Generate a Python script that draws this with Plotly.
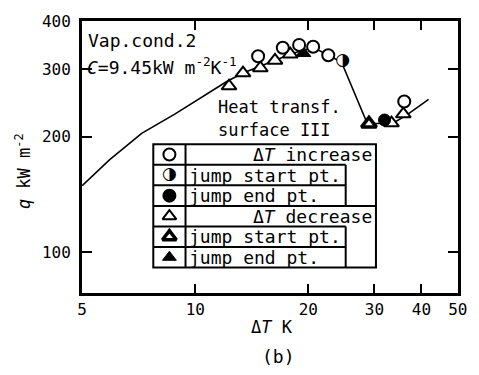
import math
import plotly.graph_objects as go

# ---------------- data ----------------
curve_dT = [5.0, 5.91, 7.20, 8.82, 12.1, 13.4, 14.9, 16.3, 17.9, 19.4, 20.6, 22.6, 24.5, 28.5, 29.1, 33.7, 36.6, 41.8]
curve_q = [149, 174, 204, 229, 278, 293, 305, 316, 328, 336, 342, 326, 313, 220, 216, 217, 228, 250]

inc_dT = [14.7, 17.1, 18.9, 20.6, 22.6, 36.0]
inc_q = [324, 341, 347, 343, 326, 247]
inc_start_dT = [24.7]
inc_start_q = [316]
inc_end_dT = [31.9]
inc_end_q = [221]

dec_dT = [12.3, 13.4, 14.9, 16.3, 17.9, 33.3, 35.8]
dec_q = [271, 293, 302, 316, 328, 217, 229]
dec_start_dT = [29.0]
dec_start_q = [216]
dec_end_dT = [19.4]
dec_end_q = [330]

x_ticks = [5, 10, 20, 30, 40, 50]
x_ticktext = ["5", "10", "20", "30", "40", "50"]
y_ticks = [100, 200, 300, 400]
y_ticktext = ["100", "200", "300", "400"]

legend_labels = ["Δ<i>T</i> increase", "jump start pt.", "jump end pt.",
                 "Δ<i>T</i> decrease", "jump start pt.", "jump end pt."]

# ---------------- figure ----------------
MONO = "DejaVu Sans Mono"
fig = go.Figure()

fig.add_trace(go.Scatter(x=curve_dT, y=curve_q, mode="lines",
                         line=dict(color="black", width=1.6), hoverinfo="skip"))

tri_size = 13
circ_size = 12
fig.add_trace(go.Scatter(x=dec_dT, y=dec_q, mode="markers",
                         marker=dict(symbol="triangle-up", size=tri_size, color="white",
                                     line=dict(color="black", width=2))))
fig.add_trace(go.Scatter(x=dec_start_dT, y=dec_start_q, mode="markers",
                         marker=dict(symbol="triangle-up", size=tri_size, color="white",
                                     line=dict(color="black", width=3.5))))
fig.add_trace(go.Scatter(x=dec_end_dT, y=dec_end_q, mode="markers",
                         marker=dict(symbol="triangle-up", size=tri_size, color="black",
                                     line=dict(color="black", width=1))))
fig.add_trace(go.Scatter(x=inc_dT, y=inc_q, mode="markers",
                         marker=dict(symbol="circle", size=circ_size, color="white",
                                     line=dict(color="black", width=2))))
fig.add_trace(go.Scatter(x=inc_end_dT, y=inc_end_q, mode="markers",
                         marker=dict(symbol="circle", size=circ_size, color="black",
                                     line=dict(color="black", width=1))))
fig.add_trace(go.Scatter(x=inc_start_dT, y=inc_start_q, mode="markers+text",
                         marker=dict(symbol="circle", size=circ_size, color="white",
                                     line=dict(color="black", width=0)),
                         text=["◑"], textposition="middle center",
                         textfont=dict(family="DejaVu Sans", size=17, color="black")))

# ---------------- legend table (pixel overlay axes) ----------------
L, R_in, R_out, C = 155, 352, 383, 188
rows = [141, 162, 183, 204, 225, 246, 267]
centers = [(rows[i] + rows[i + 1]) / 2 for i in range(6)]
sx = (L + C) / 2

fig.add_trace(go.Scatter(x=[sx, sx, sx], y=[centers[0], centers[2], centers[3]],
                         xaxis="x2", yaxis="y2", mode="markers",
                         marker=dict(symbol=["circle", "circle", "triangle-up"],
                                     size=12, color=["white", "black", "white"],
                                     line=dict(color="black", width=2))))
fig.add_trace(go.Scatter(x=[sx, sx], y=[centers[4], centers[5]],
                         xaxis="x2", yaxis="y2", mode="markers",
                         marker=dict(symbol="triangle-up", size=12, color=["white", "black"],
                                     line=dict(color="black", width=[3.5, 1]))))
fig.add_trace(go.Scatter(x=[sx], y=[centers[1]], xaxis="x2", yaxis="y2",
                         mode="text", text=["◑"], textposition="middle center",
                         textfont=dict(family="DejaVu Sans", size=17, color="black")))

shapes = []
lw = 2
shapes.append(dict(type="rect", xref="x2", yref="y2", x0=L, x1=R_out, y0=rows[0], y1=rows[6],
                   line=dict(color="black", width=lw)))
shapes.append(dict(type="line", xref="x2", yref="y2", x0=C, x1=C, y0=rows[0], y1=rows[6],
                   line=dict(color="black", width=lw)))
for i, right in [(1, R_in), (2, R_in), (3, R_out), (4, R_in), (5, R_in)]:
    shapes.append(dict(type="line", xref="x2", yref="y2", x0=L, x1=right, y0=rows[i], y1=rows[i],
                       line=dict(color="black", width=lw)))
for a, b in [(1, 3), (4, 6)]:
    shapes.append(dict(type="line", xref="x2", yref="y2", x0=R_in, x1=R_in, y0=rows[a], y1=rows[b],
                       line=dict(color="black", width=lw)))

annotations = []
for i, lab in enumerate(legend_labels):
    if i in (0, 3):
        annotations.append(dict(x=R_out - 2, y=centers[i], xref="x2", yref="y2", text=lab,
                                showarrow=False, xanchor="right", yanchor="middle",
                                font=dict(family=MONO, size=18, color="black")))
    else:
        annotations.append(dict(x=C + 1, y=centers[i], xref="x2", yref="y2", text=lab,
                                showarrow=False, xanchor="left", yanchor="middle",
                                font=dict(family=MONO, size=18, color="black")))

annotations += [
    dict(x=86, y=35, xref="x2", yref="y2", text="Vap.cond.2", showarrow=False,
         xanchor="left", yanchor="middle", font=dict(family=MONO, size=18, color="black")),
    dict(x=85, y=61, xref="x2", yref="y2", text="<i>C</i>=9.45kW m<sup>-2</sup>K<sup>-1</sup>",
         showarrow=False, xanchor="left", yanchor="middle",
         font=dict(family=MONO, size=18, color="black")),
    dict(x=219, y=103, xref="x2", yref="y2", text="Heat transf.", showarrow=False,
         xanchor="left", yanchor="middle", font=dict(family=MONO, size=17, color="black")),
    dict(x=219, y=126, xref="x2", yref="y2", text="surface III", showarrow=False,
         xanchor="left", yanchor="middle", font=dict(family=MONO, size=17, color="black")),
    # axis titles and caption (paper coords)
    dict(x=(277 - 82) / 385, y=(293 - 328) / 278, xref="paper", yref="paper",
         text="Δ<i>T</i> K", showarrow=False, xanchor="center", yanchor="middle",
         font=dict(family=MONO, size=17, color="black")),
    dict(x=(21 - 82) / 385, y=(293 - 168) / 278, xref="paper", yref="paper",
         text="<i>q</i> kW m<sup>-2</sup>", showarrow=False, xanchor="center", yanchor="middle",
         textangle=-90, font=dict(family=MONO, size=17, color="black")),
    dict(x=(283 - 82) / 385, y=(293 - 358) / 278, xref="paper", yref="paper",
         text="(b)", showarrow=False, xanchor="center", yanchor="middle",
         font=dict(family=MONO, size=18, color="black")),
]

fig.update_layout(
    width=479, height=375,
    margin=dict(l=82, r=12, t=15, b=82, pad=0),
    paper_bgcolor="white", plot_bgcolor="white",
    showlegend=False,
    shapes=shapes, annotations=annotations,
    xaxis=dict(type="log", range=[math.log10(4.995), math.log10(50.05)],
               tickvals=x_ticks, ticktext=x_ticktext, ticks="inside", ticklen=9, tickwidth=2,
               tickcolor="black", showline=True, linewidth=3, linecolor="black", mirror="ticks",
               showgrid=False, zeroline=False,
               tickfont=dict(family=MONO, size=16, color="black")),
    yaxis=dict(type="log", range=[math.log10(78.2), math.log10(400.5)],
               tickvals=y_ticks, ticktext=y_ticktext, ticks="inside", ticklen=10, tickwidth=2,
               tickcolor="black", showline=True, linewidth=3, linecolor="black", mirror="ticks",
               showgrid=False, zeroline=False, ticklabelstandoff=5,
               tickfont=dict(family=MONO, size=16, color="black")),
    xaxis2=dict(overlaying="x", anchor="y2", range=[82, 467], visible=False, fixedrange=True),
    yaxis2=dict(overlaying="y", anchor="x2", range=[293, 15], visible=False, fixedrange=True),
)

fig.write_html("out.html")
